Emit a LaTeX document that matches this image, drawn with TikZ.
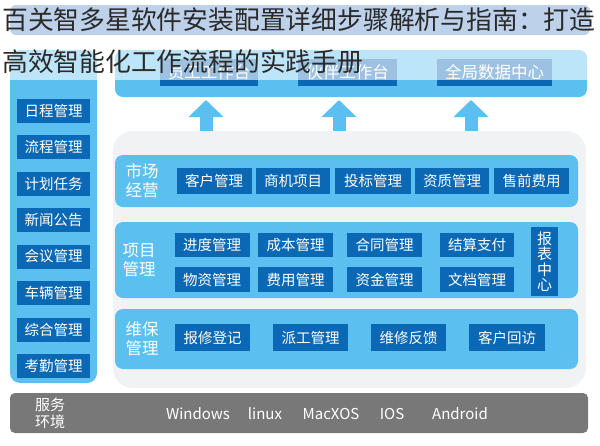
\documentclass[tikz,border=0pt]{standalone}
\usepackage{fontspec}
\setmainfont{Noto Sans CJK SC}
\usetikzlibrary{arrows.meta}

\definecolor{azzurro}{HTML}{5BC0F0}
\definecolor{blu}{HTML}{0A68B4}
\definecolor{grigio}{HTML}{787878}
\definecolor{sfondo}{HTML}{F1F2F4}
\definecolor{testata}{HTML}{5C8ECD}
\definecolor{titolo}{HTML}{2A2A2A}

\tikzset{
  btn/.style={fill=blu, text=white, inner sep=0pt, minimum width=75pt, minimum height=26pt,
    font=\fontsize{14.5}{15}\selectfont},
  btnsx/.style={btn, minimum width=73pt, minimum height=24pt},
  btntop/.style={btn, minimum height=27pt, font=\fontsize{16.5}{17}\selectfont},
  fascia/.style={fill=azzurro, rounded corners=8pt},
  voce/.style={text=white, align=center, inner sep=0pt, font=\fontsize{16.5}{19}\selectfont},
  freccia/.style={draw=azzurro, line width=13pt, -{Triangle[width=34pt,length=17pt]}},
  os/.style={text=white, inner sep=0pt, font=\fontsize{15}{15}\selectfont}
}

\begin{document}
\begin{tikzpicture}[x=1pt, y=-1pt]
    \useasboundingbox (0,0) rectangle (600,445);
    \fill[white] (0,0) rectangle (600,445);

    % Testata
    \fill[testata, rounded corners=6pt] (10,5) rectangle (590,35);

    % Colonna sinistra
    \fill[fascia, rounded corners=10pt] (10,50) rectangle (97,383);
    \foreach \t [count=\i] in {日程管理,流程管理,计划任务,新闻公告,会议管理,车辆管理,综合管理,考勤管理}
        \node[btnsx] (sx\i) at (53.5, {74+36.5*\i}) {\t};

    % Fascia superiore
    \fill[fascia] (115,50) rectangle (587,97);
    \node[btntop, minimum width=98pt] (staff) at (209,72.5) {员工工作台};
    \node[btntop, minimum width=99pt] (partner) at (347.5,72.5) {伙伴工作台};
    \node[btntop, minimum width=115pt] (dati) at (494.5,72.5) {全局数据中心};

    % Frecce
    \foreach \n/\px in {1/206, 2/339, 3/471} {
        \coordinate (base\n) at (\px,131);
        \coordinate (punta\n) at (\px,100);
        \draw[freccia] (base\n) -- (punta\n);
    }

    % Pannello centrale
    \fill[sfondo, rounded corners=20pt] (113,131) rectangle (586,388);

    % Mercato
    \fill[fascia] (115,155) rectangle (578,207);
    \node[voce] (mercato) at (142,181) {市场\\经营};
    \node[btn] (clienti) at (214,181) {客户管理};
    \node[btn, minimum width=74pt] (affari) at (293,181) {商机项目};
    \node[btn, minimum width=76pt] (gare) at (373,181) {投标管理};
    \node[btn, minimum width=74pt] (qualifiche) at (452,181) {资质管理};
    \node[btn] (prevendita) at (531.5,181) {售前费用};

    % Progetti
    \fill[fascia] (115,222) rectangle (578,298);
    \node[voce] (progetti) at (139,260) {项目\\管理};
    \node[btn, minimum height=24pt] (avanz) at (212,245) {进度管理};
    \node[btn, minimum height=24pt] (costi) at (295.5,245) {成本管理};
    \node[btn, minimum height=24pt] (contratti) at (384.5,245) {合同管理};
    \node[btn, minimum width=74pt, minimum height=24pt] (saldo) at (477,245) {结算支付};
    \node[btn, minimum height=25pt] (materiali) at (212,279.5) {物资管理};
    \node[btn, minimum height=25pt] (spese) at (295.5,279.5) {费用管理};
    \node[btn, minimum height=25pt] (fondi) at (384.5,279.5) {资金管理};
    \node[btn, minimum width=74pt, minimum height=25pt] (documenti) at (477,279.5) {文档管理};
    \node[btn, minimum width=27pt, minimum height=69pt, align=center,
          font=\fontsize{15}{15.5}\selectfont] (report) at (544.5,261.5) {报\\表\\中\\心};

    % Manutenzione
    \fill[fascia] (115,309) rectangle (578,369);
    \node[voce] (manut) at (142,339) {维保\\管理};
    \node[btn, minimum height=27pt] (guasti) at (212.5,337.5) {报修登记};
    \node[btn, minimum height=27pt] (incarichi) at (310.5,337.5) {派工管理};
    \node[btn, minimum height=27pt] (esiti) at (408.5,337.5) {维修反馈};
    \node[btn, minimum width=76pt, minimum height=27pt] (visite) at (507,337.5) {客户回访};

    % Ambiente
    \fill[grigio, rounded corners=5pt] (10,393) rectangle (588,433);
    \node[os, align=center, font=\fontsize{15}{17}\selectfont] (ambiente) at (50,413) {服务\\环境};
    \node[os] (win) at (198,414) {Windows};
    \node[os] (lin) at (265,414) {linux};
    \node[os] (mac) at (331,414) {MacXOS};
    \node[os] (ios) at (392,414) {IOS};
    \node[os] (andr) at (460,414) {Android};

    % Titolo sovrapposto
    \fill[white, opacity=0.6] (0,0) rectangle (600,80);
    \node[anchor=west, inner sep=0pt, text=titolo, font=\fontsize{25.8}{26}\selectfont] (tit1) at (2,20)
        {百关智多星软件安装配置详细步骤解析与指南：打造};
    \node[anchor=west, inner sep=0pt, text=titolo, font=\fontsize{25.8}{26}\selectfont] (tit2) at (2,62)
        {高效智能化工作流程的实践手册};
\end{tikzpicture}
\end{document}
